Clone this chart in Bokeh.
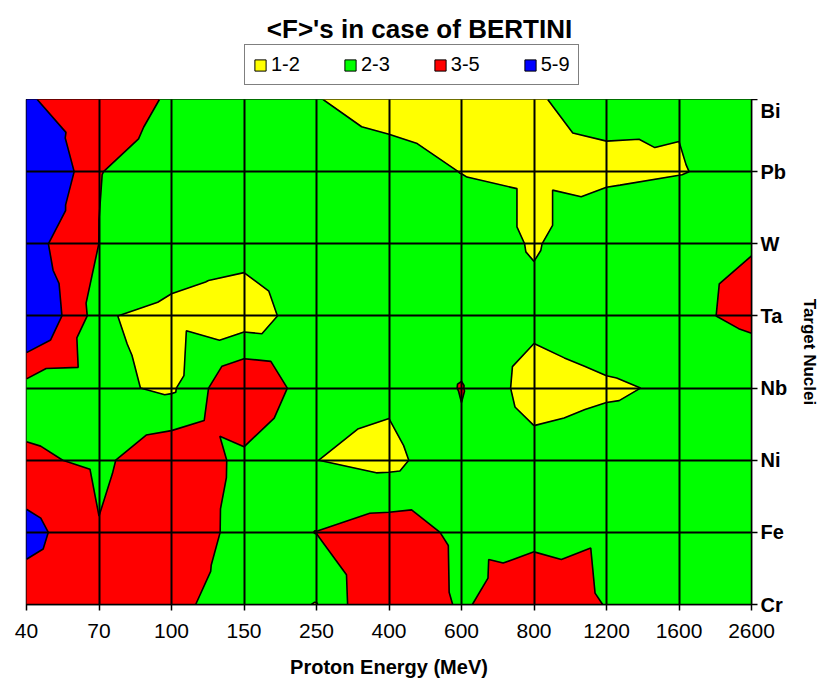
import numpy as np
from contourpy import contour_generator, FillType, LineType
from bokeh.plotting import figure
from bokeh.layouts import column
from bokeh.models import Range1d, FixedTicker, Legend, LegendItem, Label
from bokeh.embed import file_html
from bokeh.resources import INLINE

# ---- data ----
energies = ["40", "70", "100", "150", "250", "400", "600", "800", "1200", "1600", "2600"]
nuclei = ["Cr", "Fe", "Ni", "Nb", "Ta", "W", "Pb", "Bi"]

F_Cr = [3.60, 3.60, 3.30, 2.40, 1.97, 4.37, 2.81, 4.08, 2.94, 2.60, 2.50]
F_Fe = [5.83, 3.07, 4.00, 2.51, 3.02, 3.50, 2.79, 2.60, 2.90, 2.50, 2.50]
F_Ni = [3.24, 2.76, 3.80, 2.75, 2.01, 1.70, 2.80, 2.46, 2.60, 2.50, 2.50]
F_Nb = [2.30, 2.20, 1.85, 4.10, 2.26, 2.22, 3.05, 1.50, 1.85, 2.17, 2.37]
F_Ta = [7.80, 2.07, 1.80, 1.40, 2.70, 2.60, 2.50, 2.31, 2.73, 2.79, 3.20]
F_W  = [5.87, 2.99, 2.45, 2.40, 2.60, 2.60, 2.67, 1.90, 2.80, 2.95, 2.96]
F_Pb = [8.80, 3.02, 2.70, 2.60, 2.45, 2.43, 1.98, 1.90, 1.78, 1.95, 2.31]
F_Bi = [5.26, 3.50, 2.90, 2.60, 2.04, 1.60, 1.50, 1.93, 2.30, 2.07, 2.50]

levels = [1, 2, 3, 5, 9]
level_labels = ["1-2", "2-3", "3-5", "5-9"]
level_colors = ["#FFFF00", "#00FF00", "#FF0000", "#0000FF"]
title_text = "<F>'s in case of BERTINI"

# ---- build ----
z = np.array([F_Cr, F_Fe, F_Ni, F_Nb, F_Ta, F_W, F_Pb, F_Bi], dtype=float)
xi = np.arange(len(energies), dtype=float)
yi = np.arange(len(nuclei), dtype=float)

FONT = "Liberation Sans"
W = 822
TOP_H = 99

# ---------- header: title + legend ----------
head = figure(width=W, height=TOP_H, x_range=Range1d(0, 1), y_range=Range1d(0, 1),
              output_backend="svg", toolbar_location=None,
              x_axis_location=None, y_axis_location=None,
              min_border_left=0, min_border_right=0, min_border_top=0, min_border_bottom=0,
              outline_line_color=None, background_fill_color="white",
              border_fill_color="white")
head.xgrid.visible = False
head.ygrid.visible = False

head.add_layout(Label(x=393, y=TOP_H - 28, x_units="screen", y_units="screen",
                      text=title_text, text_align="center", text_baseline="middle",
                      text_font=FONT, text_font_size="26px", text_font_style="bold",
                      text_color="black"))

items = []
for lab, col in zip(level_labels, level_colors):
    r = head.quad(left=[np.nan], right=[np.nan], top=[np.nan], bottom=[np.nan],
                  fill_color=col, line_color="black", line_width=1)
    items.append(LegendItem(label=lab, renderers=[r]))

legend = Legend(items=items, orientation="horizontal", location=(218, 14),
                glyph_width=14, glyph_height=14, label_standoff=4,
                spacing=43, padding=8, margin=0,
                label_text_font=FONT, label_text_font_size="20px",
                label_text_color="black",
                border_line_color="black", border_line_width=1.5,
                background_fill_color="white", background_fill_alpha=1)
head.add_layout(legend, "center")

# ---------- main contour chart ----------
p = figure(width=W, height=680 - TOP_H,
           x_range=Range1d(0, len(energies) - 1),
           y_range=Range1d(0, len(nuclei) - 1),
           output_backend="svg", toolbar_location=None,
           y_axis_location="right",
           min_border_left=26, min_border_right=70,
           min_border_top=0, min_border_bottom=75,
           background_fill_color="white", border_fill_color="white")

# each cell split in 4 triangles around its centre value (as the spreadsheet chart does)
cg = contour_generator(xi, yi, z, name="serial", quad_as_tri=True,
                       fill_type=FillType.OuterOffset, line_type=LineType.Separate)

for lo, hi, col in zip(levels[:-1], levels[1:], level_colors):
    pts_list, offs_list = cg.filled(lo, hi)
    xs, ys = [], []
    for pts, offs in zip(pts_list, offs_list):
        rx = [list(pts[offs[i]:offs[i + 1], 0]) for i in range(len(offs) - 1)]
        ry = [list(pts[offs[i]:offs[i + 1], 1]) for i in range(len(offs) - 1)]
        xs.append([rx])
        ys.append([ry])
    if xs:
        p.multi_polygons(xs=xs, ys=ys, fill_color=col, line_color=col, line_width=0.5)

for lev in levels:
    lines = cg.lines(lev)
    if lines:
        p.multi_line(xs=[list(l[:, 0]) for l in lines], ys=[list(l[:, 1]) for l in lines],
                     line_color="black", line_width=1.6)

p.xaxis.ticker = FixedTicker(ticks=list(range(len(energies))))
p.xaxis.major_label_overrides = {i: s for i, s in enumerate(energies)}
p.yaxis.ticker = FixedTicker(ticks=list(range(len(nuclei))))
p.yaxis.major_label_overrides = {i: s for i, s in enumerate(nuclei)}

for ax in (p.xaxis[0], p.yaxis[0]):
    ax.axis_line_color = "black"
    ax.axis_line_width = 1.5
    ax.major_tick_line_color = "black"
    ax.major_tick_line_width = 1.5
    ax.major_tick_out = 6
    ax.major_tick_in = 0
    ax.minor_tick_line_color = None
    ax.major_label_text_font = FONT
    ax.major_label_text_color = "black"
    ax.axis_label_text_font = FONT
    ax.axis_label_text_font_style = "bold"
    ax.axis_label_text_color = "black"

p.xaxis.major_label_text_font_size = "21px"
p.xaxis.major_label_standoff = 13
p.xaxis.axis_label = "Proton Energy (MeV)"
p.xaxis.axis_label_text_font_size = "20px"
p.xaxis.axis_label_standoff = 15

p.yaxis.major_label_text_font_size = "20px"
p.yaxis.major_label_text_font_style = "bold"
p.yaxis.major_label_standoff = 3
p.yaxis.axis_label = "Target Nuclei"
p.yaxis.axis_label_text_font_size = "17px"
p.yaxis.axis_label_standoff = 10

for g, n in ((p.xgrid[0], len(energies)), (p.ygrid[0], len(nuclei))):
    g.ticker = FixedTicker(ticks=list(range(n)))
    g.grid_line_color = "black"
    g.grid_line_width = 2
    g.grid_line_alpha = 1
    g.level = "overlay"

p.outline_line_color = "black"
p.outline_line_width = 1.5

layout = column(head, p, spacing=0)
open("out.html", "w").write(file_html(layout, INLINE))
